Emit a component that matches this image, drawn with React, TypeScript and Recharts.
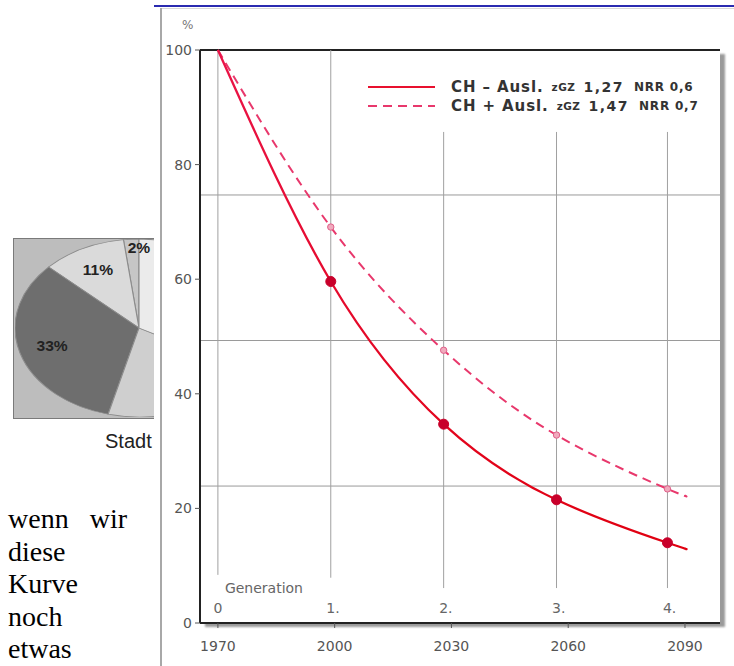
import React from "react";
import {
  LineChart,
  Line,
  XAxis,
  YAxis,
  ReferenceLine,
  Scatter,
  Legend,
  PieChart,
  Pie,
  Cell,
} from "recharts";

// generations (years where a generation is marked)
const genYears = [1970, 1999, 2028, 2057, 2085.5];
const genLabels = ["0", "1.", "2.", "3.", "4."];
// remaining share in %, per generation
const withoutImmig = [100, 59.6, 34.7, 21.5, 14.0];
const withImmig = [100, 69.1, 47.6, 32.8, 23.4];
// where the curves stop
const endYear = 2090;
const withoutImmigEnd = 13.0;
const withImmigEnd = 22.3;

const yearTicks = [1970, 2000, 2030, 2060, 2090];
const percentTicks = [0, 20, 40, 60, 80, 100];
const hGrid = [74.7, 49.3, 23.9];
const genLineBottom = [8.4, 7.9, 6.1, 6.1, 6.1];
const genLineTop = [100, 100, 85.7, 85.7, 85.7];

const legendRows = [
  { name: "CH – Ausl.", zgz: "1,27", nrr: "NRR 0,6", dashed: false },
  { name: "CH + Ausl.", zgz: "1,47", nrr: "NRR 0,7", dashed: true },
];

// pie on the left (cut off by the chart)
const pieShares = [2, 11, 33, 21, 33];
const pieLabels = ["2%", "11%", "33%", "", ""];
const pieColors = ["#c6c6c6", "#dadada", "#6e6e6e", "#cfcfcf", "#ebebeb"];

const textWords = "wenn wir diese Kurve noch etwas";

const solidColor = "#e8102e";
const dashColor = "#e8386c";

const solidData = genYears
  .map((year, i) => ({ year, v: withoutImmig[i], marker: i > 0 }))
  .concat([{ year: endYear, v: withoutImmigEnd, marker: false }]);
const dashData = genYears
  .map((year, i) => ({ year, v: withImmig[i], marker: i > 0 }))
  .concat([{ year: endYear, v: withImmigEnd, marker: false }]);
const genLabelData = genYears
  .map((year, i) => ({ year, v: 2.6, label: genLabels[i], title: false }))
  .concat([{ year: 1970, v: 6.1, label: "Generation", title: true }]);
const pieData = pieShares.map((share, i) => ({ share, label: pieLabels[i] }));

const font = "DejaVu Sans";

const SolidDot = (props: any) => {
  const { cx, cy, payload, index } = props;
  if (!payload.marker) return <g key={"s" + index} />;
  return <circle key={"s" + index} cx={cx} cy={cy} r={5} fill="#c8002a" stroke="#c8002a" />;
};

const DashDot = (props: any) => {
  const { cx, cy, payload, index } = props;
  if (!payload.marker) return <g key={"d" + index} />;
  return (
    <circle key={"d" + index} cx={cx} cy={cy} r={3.2} fill="#f0aabd" stroke="#e0608a" strokeWidth={1} />
  );
};

const GenLabel = (props: any) => {
  const { cx, cy, payload } = props;
  return (
    <text
      x={payload.title ? cx + 7 : cx - 4.5}
      y={cy}
      dy="0.35em"
      fill="#666"
      fontSize={14}
      fontFamily={font}
    >
      {payload.label}
    </text>
  );
};

const LegendBox = () => (
  <div style={{ fontFamily: font, color: "#333", fontWeight: "bold" }}>
    {legendRows.map((r) => (
      <div key={r.name} style={{ display: "flex", alignItems: "center", height: 19, whiteSpace: "nowrap" }}>
        <svg width={67} height={6}>
          <line
            x1={0}
            y1={3}
            x2={67}
            y2={3}
            stroke={r.dashed ? dashColor : solidColor}
            strokeWidth={2}
            strokeDasharray={r.dashed ? "9 6" : undefined}
          />
        </svg>
        <span style={{ marginLeft: 16, fontSize: 15, letterSpacing: 0.9 }}>{r.name}</span>
        <span style={{ marginLeft: 8, fontSize: 10.5, letterSpacing: 0.5 }}>zGZ</span>
        <span style={{ marginLeft: 8, fontSize: 14, letterSpacing: 1.5 }}>{r.zgz}</span>
        <span style={{ marginLeft: 10, fontSize: 12, letterSpacing: 0.8 }}>{r.nrr}</span>
      </div>
    ))}
  </div>
);

const renderPieLabel = (p: any) => {
  const { cx, cy, midAngle, outerRadius, index, value } = p;
  if (!pieLabels[index]) return null;
  const r = outerRadius * (value < 5 ? 0.9 : 0.73);
  const rad = (Math.PI / 180) * midAngle;
  const x = cx + r * Math.cos(rad) + (value < 5 ? 5 : 0);
  const y = cy - r * Math.sin(rad);
  return (
    <text
      transform={`translate(${x} ${y}) scale(0.8 1)`}
      textAnchor="middle"
      dominantBaseline="central"
      fontSize={14}
      fontWeight="bold"
      fontFamily="Liberation Sans"
      fill="#222"
    >
      {pieLabels[index]}
    </text>
  );
};

const App = () => {
  return (
    <div style={{ position: "absolute", left: 0, top: 0, width: 734, height: 666, overflow: "hidden", background: "#fff" }}>
      {/* pie box */}
      <div
        style={{
          position: "absolute",
          left: 13,
          top: 238,
          width: 200,
          height: 181,
          boxSizing: "border-box",
          background: "#bdbdbd",
          border: "1px solid #7a7a7a",
          overflow: "hidden",
        }}
      >
        <div
          style={{
            position: "absolute",
            left: 36,
            top: 0,
            width: 178,
            height: 178,
            transform: "scaleX(1.393)",
            transformOrigin: "89px 89px",
          }}
        >
          <PieChart width={178} height={178} margin={{ top: 0, right: 0, bottom: 0, left: 0 }}>
            <Pie
              data={pieData}
              dataKey="share"
              cx={89}
              cy={89}
              outerRadius={89}
              startAngle={90}
              endAngle={450}
              stroke="#8c8c8c"
              strokeWidth={0.8}
              label={renderPieLabel}
              labelLine={false}
              isAnimationActive={false}
            >
              {pieData.map((d, i) => (
                <Cell key={i} fill={pieColors[i]} />
              ))}
            </Pie>
          </PieChart>
        </div>
      </div>
      <div
        style={{
          position: "absolute",
          left: 105,
          top: 430,
          fontFamily: "Liberation Sans",
          fontSize: 20,
          color: "#222",
          whiteSpace: "nowrap",
        }}
      >
        Stadt
      </div>
      <div
        style={{
          position: "absolute",
          left: 8,
          top: 503,
          width: 119,
          fontFamily: "Liberation Serif",
          fontSize: 28,
          lineHeight: "32.6px",
          textAlign: "justify",
          color: "#000",
        }}
      >
        {textWords}
      </div>

      {/* chart panel */}
      <div style={{ position: "absolute", left: 154, top: 0, width: 580, height: 666, background: "#fff" }}>
        <div style={{ position: "absolute", left: 0, right: 0, top: 5, height: 2, background: "#2a2ab0" }} />
        <div style={{ position: "absolute", left: 6, right: 0, top: 8, height: 1, background: "#d8d8d8" }} />
        <div style={{ position: "absolute", left: 6, top: 8, bottom: 0, width: 2, background: "#a8a8a8" }} />
        <div
          style={{
            position: "absolute",
            left: 46,
            top: 50,
            width: 520,
            height: 573,
            background: "#fff",
            boxShadow: "5px 4px 2px #9a9a9a",
          }}
        />
        <div style={{ position: "absolute", left: 0, top: 0 }}>
          <LineChart width={580} height={666} margin={{ top: 50, right: 14, bottom: 13, left: 16 }}>
            <defs>
              <linearGradient id="solidStroke" x1="0" y1="0" x2="0" y2="1">
                <stop offset="0%" stopColor="#ea1448" />
                <stop offset="100%" stopColor="#e00010" />
              </linearGradient>
            </defs>
            <XAxis
              dataKey="year"
              type="number"
              domain={[1965.4, 2099]}
              ticks={yearTicks}
              allowDataOverflow
              height={30}
              tickSize={5}
              tickMargin={13}
              axisLine={{ stroke: "#222", strokeWidth: 2 }}
              tickLine={{ stroke: "#555" }}
              tick={{ fill: "#555", fontSize: 14, fontFamily: font }}
            />
            <XAxis
              xAxisId="top"
              orientation="top"
              type="number"
              domain={[1965.4, 2099]}
              height={0}
              tick={false}
              tickLine={false}
              axisLine={{ stroke: "#222", strokeWidth: 2 }}
            />
            <YAxis
              dataKey="v"
              type="number"
              domain={[0, 100]}
              ticks={percentTicks}
              width={30}
              tickSize={5}
              tickMargin={3}
              axisLine={{ stroke: "#222", strokeWidth: 2 }}
              tickLine={{ stroke: "#555" }}
              tick={{ fill: "#555", fontSize: 14, fontFamily: font }}
              label={{
                content: (p: any) => (
                  <text x={p.viewBox.x + 12} y={p.viewBox.y - 21} fill="#777" fontSize={12} fontFamily={font}>
                    %
                  </text>
                ),
              }}
            />
            <YAxis
              yAxisId="right"
              orientation="right"
              type="number"
              domain={[0, 100]}
              width={0}
              tick={false}
              tickLine={false}
              axisLine={{ stroke: "#222", strokeWidth: 2 }}
            />
            <ReferenceLine y={100} stroke="#222" strokeWidth={2} />
            {hGrid.map((v) => (
              <ReferenceLine key={"h" + v} y={v} stroke="#9a9a9a" strokeWidth={1} />
            ))}
            {genYears.map((yr, i) => (
              <ReferenceLine
                key={"g" + yr}
                segment={[
                  { x: yr, y: genLineBottom[i] },
                  { x: yr, y: genLineTop[i] },
                ]}
                stroke="#a0a0a0"
                strokeWidth={1}
              />
            ))}
            <Legend
              layout="horizontal"
              verticalAlign="middle"
              align="center"
              wrapperStyle={{ top: 77, left: 214, width: 360 }}
              content={() => <LegendBox />}
            />
            <Scatter data={genLabelData} shape={GenLabel} isAnimationActive={false} />
            <Line
              data={dashData}
              dataKey="v"
              type="natural"
              stroke={dashColor}
              strokeWidth={2}
              strokeDasharray="9 6"
              dot={DashDot}
              activeDot={false}
              isAnimationActive={false}
            />
            <Line
              data={solidData}
              dataKey="v"
              type="natural"
              stroke="url(#solidStroke)"
              strokeWidth={2.3}
              dot={SolidDot}
              activeDot={false}
              isAnimationActive={false}
            />
          </LineChart>
        </div>
      </div>
    </div>
  );
};

export default App;
